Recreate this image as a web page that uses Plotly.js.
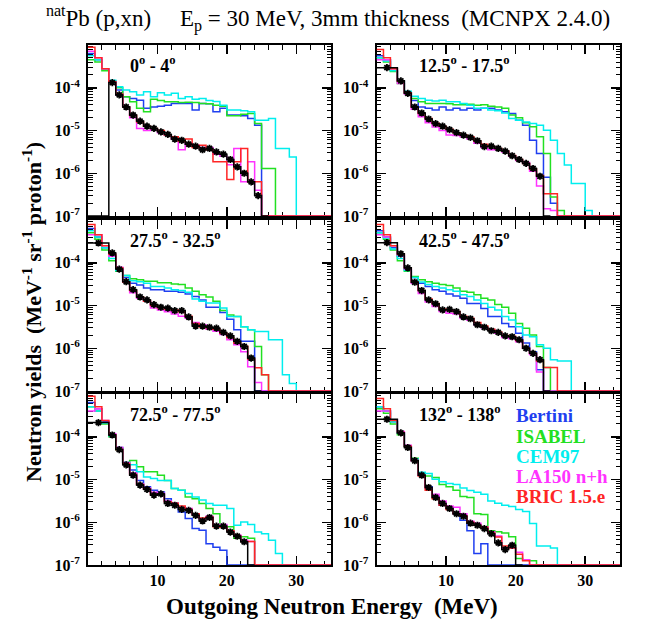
<!DOCTYPE html>
<html><head><meta charset="utf-8">
<script src="https://cdn.plot.ly/plotly-3.0.1.min.js"></script>
<style>html,body{margin:0;padding:0;background:#fff}#chart{width:656px;height:626px}</style>
</head><body><div id="chart"></div>
<script>
// Bin edges (MeV)
const modelEdges = [0,1,2,3,4,5,6,7,8,9,10,11,12,13,14,15,16,17,18,19,20,21,22,23,24,25,26,27,28,29,30,31,32,33,34,35];
const dataEdges = [0,3,4,5,6,7,8,9,10,11,12,13,14,15,16,17,18,19,20,21,22,23,24,25,26,27,28,29,30,31,32,33,34,35];

const panelLabels = ['0<sup>o</sup> - 4<sup>o</sup>','12.5<sup>o</sup> - 17.5<sup>o</sup>','27.5<sup>o</sup> - 32.5<sup>o</sup>','42.5<sup>o</sup> - 47.5<sup>o</sup>','72.5<sup>o</sup> - 77.5<sup>o</sup>','132<sup>o</sup> - 138<sup>o</sup>'];
const modelNames = ['Bertini','ISABEL','CEM97','LA150 n+h','BRIC 1.5.e'];
const modelColors = ['#1f3ff0','#22e022','#00eeee','#ff33ff','#ff2525'];

// ---- 0 - 4 deg ----
const p1_bertini = [6.3e-4,4.5e-4,2.8e-4,1.41e-4,8.9e-5,6.2e-5,5.6e-5,5.1e-5,3.3e-5,3.55e-5,3.7e-5,3.9e-5,4.3e-5,4.3e-5,4.3e-5,3.0e-5,4.3e-5,4.2e-5,2.75e-5,3.3e-5,2.3e-5,2.3e-5,2.2e-5,1.9e-5,1.32e-5,0,0,0,0,0,0,0,0,0,0];
const p1_isabel = [4.5e-4,4.0e-4,2.5e-4,1.41e-4,1.0e-4,6.2e-5,4.7e-5,3.3e-5,2.75e-5,5.4e-5,5.0e-5,4.7e-5,4.7e-5,4.5e-5,4.6e-5,4.5e-5,4.3e-5,4.2e-5,3.9e-5,3.7e-5,2.2e-5,2.2e-5,2.4e-5,2.5e-5,1.45e-5,1.3e-6,1.3e-6,0,0,0,0,0,0,0,0];
const p1_cem = [5.6e-4,4.5e-4,2.8e-4,1.5e-4,1.05e-4,8.9e-5,8.1e-5,6.8e-5,8.1e-5,6.2e-5,7.6e-5,6.8e-5,7.4e-5,5.6e-5,6.2e-5,5.4e-5,5.6e-5,5.0e-5,4.8e-5,3.9e-5,3.0e-5,3.0e-5,2.9e-5,2.75e-5,1.74e-5,1.74e-5,1.9e-5,3.8e-6,3.8e-6,2.4e-6,0,0,0,0,0];
const p1_la150 = [7.1e-4,5.0e-4,2.8e-4,1.38e-4,6.8e-5,3.55e-5,2.0e-5,1.12e-5,1.0e-5,1.05e-5,8.9e-6,7.9e-6,6.3e-6,3.55e-6,5.0e-6,4.5e-6,4.0e-6,4.0e-6,2.8e-6,2.5e-6,1.58e-6,3.8e-6,6.3e-7,1.86e-6,4.0e-7,0,0,0,0,0,0,0,0,0,0];
const p1_bric = [8.9e-4,5.0e-4,2.8e-4,1.38e-4,7.1e-5,3.55e-5,2.24e-5,1.58e-5,1.26e-5,1.12e-5,1.0e-5,7.9e-6,7.1e-6,5.6e-6,6.3e-6,4.0e-6,4.5e-6,3.55e-6,1.86e-6,1.86e-6,7.1e-7,1.86e-6,3.8e-6,6.3e-7,6.3e-7,0,0,0,0,0,0,0,0,0,0];
const p1_exp = [0,1.32e-4,6.8e-5,3.55e-5,2.3e-5,1.66e-5,1.26e-5,1.12e-5,9.3e-6,8.1e-6,6.3e-6,5.9e-6,4.8e-6,4.3e-6,3.55e-6,3.8e-6,3.16e-6,2.8e-6,2.1e-6,1.41e-6,1.0e-6,6.3e-7,3.0e-7,0];

// ---- 12.5 - 17.5 deg ----
const p2_bertini = [5.6e-4,4.5e-4,2.5e-4,1.41e-4,7.9e-5,5.0e-5,3.55e-5,3.3e-5,3.0e-5,3.55e-5,3.0e-5,3.3e-5,3.0e-5,3.3e-5,3.0e-5,3.3e-5,3.3e-5,3.0e-5,2.75e-5,2.5e-5,1.74e-5,1.32e-5,5.9e-6,2.9e-6,8.1e-7,2.0e-7,0,0,0,0,0,0,0,0,0];
const p2_isabel = [5.0e-4,4.0e-4,2.4e-4,1.26e-4,7.6e-5,5.6e-5,4.7e-5,4.3e-5,4.3e-5,4.3e-5,4.2e-5,4.0e-5,4.0e-5,4.1e-5,3.9e-5,4.0e-5,3.7e-5,3.55e-5,3.3e-5,2.3e-5,2.0e-5,1.51e-5,1.23e-5,7.1e-6,2.9e-6,2.8e-7,1.35e-7,0,0,0,0,0,0,0,0];
const p2_cem = [5.0e-4,4.2e-4,2.5e-4,1.41e-4,8.3e-5,6.3e-5,5.6e-5,5.1e-5,4.9e-5,5.1e-5,4.7e-5,4.7e-5,4.3e-5,3.9e-5,3.3e-5,3.3e-5,3.0e-5,2.9e-5,2.57e-5,1.9e-5,1.74e-5,1.58e-5,1.45e-5,1.32e-5,1.02e-5,5.9e-6,2.9e-6,1.55e-6,5.75e-7,5.75e-7,1.35e-7,0,0,0,0];
const p2_la150 = [4.5e-4,4.5e-4,2.8e-4,1.26e-4,7.1e-5,3.16e-5,2.1e-5,1.51e-5,1.2e-5,1.0e-5,7.9e-6,7.6e-6,7.1e-6,6.3e-6,5.0e-6,4.0e-6,3.55e-6,3.55e-6,3.16e-6,2.5e-6,2.0e-6,1.78e-6,1.12e-6,5.0e-7,1.48e-7,1.35e-7,0,0,0,0,0,0,0,0,0];
const p2_bric = [7.9e-4,5.0e-4,2.8e-4,1.41e-4,7.6e-5,3.55e-5,2.5e-5,1.9e-5,1.48e-5,1.26e-5,1.07e-5,8.9e-6,7.9e-6,7.1e-6,5.6e-6,4.8e-6,4.2e-6,3.8e-6,3.3e-6,2.6e-6,2.1e-6,1.7e-6,1.26e-6,8.9e-7,3.3e-7,3.3e-7,0,0,0,0,0,0,0,0,0];
const p2_exp = [2.95e-4,1.45e-4,7.4e-5,3.55e-5,2.57e-5,1.86e-5,1.45e-5,1.26e-5,1.05e-5,8.9e-6,7.8e-6,6.9e-6,5.75e-6,4.2e-6,4.3e-6,3.8e-6,3.3e-6,2.57e-6,2.1e-6,1.7e-6,1.29e-6,8.5e-7,0];

// ---- 27.5 - 32.5 deg ----
const p3_bertini = [6.3e-4,4.0e-4,2.24e-4,1.41e-4,7.6e-5,4.5e-5,3.3e-5,3.0e-5,2.57e-5,2.35e-5,2.35e-5,2.14e-5,2.14e-5,2.04e-5,1.86e-5,1.62e-5,1.35e-5,9.1e-6,9.1e-6,6.9e-6,4.8e-6,2.7e-6,1.45e-6,1.45e-6,0,0,0,0,0,0,0,0,0,0,0];
const p3_isabel = [5.0e-4,3.55e-4,2.0e-4,1.12e-4,6.3e-5,5.0e-5,4.2e-5,4.0e-5,3.7e-5,3.7e-5,3.4e-5,3.4e-5,3.2e-5,3.1e-5,2.57e-5,2.14e-5,1.78e-5,1.58e-5,1.26e-5,7.6e-6,6.0e-6,5.5e-6,3.2e-6,2.7e-6,1.1e-6,2.4e-7,0,0,0,0,0,0,0,0,0];
const p3_cem = [5.6e-4,4.0e-4,2.24e-4,1.26e-4,6.6e-5,5.0e-5,3.8e-5,3.6e-5,3.3e-5,2.8e-5,2.8e-5,2.57e-5,2.35e-5,2.24e-5,2.04e-5,1.41e-5,1.26e-5,1.15e-5,1.15e-5,8.7e-6,5.5e-6,5.5e-6,3.2e-6,2.7e-6,2.45e-6,2.45e-6,1.58e-6,1.58e-6,2.4e-7,1.5e-7,0,0,0,0,0];
const p3_la150 = [4.5e-4,4.5e-4,2.5e-4,1.41e-4,7.9e-5,3.55e-5,2.0e-5,1.48e-5,1.26e-5,8.7e-6,7.9e-6,7.1e-6,6.3e-6,5.6e-6,5.0e-6,4.0e-6,3.55e-6,2.8e-6,2.5e-6,2.1e-6,1.58e-6,1.2e-6,8.3e-7,3.7e-7,1.58e-7,0,0,0,0,0,0,0,0,0,0];
const p3_bric = [7.9e-4,4.5e-4,2.5e-4,1.58e-4,7.6e-5,3.55e-5,2.24e-5,1.58e-5,1.26e-5,1.0e-5,8.9e-6,8.3e-6,7.9e-6,7.1e-6,5.6e-6,3.8e-6,3.16e-6,3.0e-6,2.8e-6,2.24e-6,1.78e-6,1.32e-6,1.12e-6,5.6e-7,3.5e-7,2.4e-7,0,0,0,0,0,0,0,0,0];
const p3_exp = [2.9e-4,1.7e-4,7.1e-5,3.6e-5,2.35e-5,1.58e-5,1.35e-5,1.05e-5,9.1e-6,8.7e-6,7.6e-6,7.6e-6,5.4e-6,3.3e-6,3.3e-6,3.1e-6,2.95e-6,2.35e-6,1.95e-6,1.45e-6,1.1e-6,5.9e-7,0];

// ---- 42.5 - 47.5 deg ----
const p4_bertini = [5.6e-4,4.0e-4,2.24e-4,1.41e-4,7.1e-5,4.5e-5,3.3e-5,2.8e-5,2.35e-5,2.14e-5,1.86e-5,1.66e-5,1.48e-5,1.12e-5,1.12e-5,8.5e-6,5.5e-6,5.5e-6,3.8e-6,3.2e-6,2.24e-6,1.32e-6,8.3e-7,3.16e-7,0,0,0,0,0,0,0,0,0,0,0];
const p4_isabel = [5.0e-4,3.55e-4,2.0e-4,1.12e-4,6.3e-5,4.8e-5,4.0e-5,3.6e-5,3.3e-5,3.1e-5,2.95e-5,2.57e-5,2.14e-5,2.04e-5,1.78e-5,1.48e-5,1.35e-5,1.05e-5,9.1e-6,6.6e-6,3.8e-6,2.95e-6,2.04e-6,1.1e-6,3.55e-7,0,0,0,0,0,0,0,0,0,0];
const p4_cem = [5.0e-4,3.8e-4,2.1e-4,1.26e-4,6.6e-5,4.5e-5,3.55e-5,3.1e-5,2.8e-5,2.57e-5,2.35e-5,2.14e-5,1.78e-5,1.62e-5,1.35e-5,1.12e-5,9.1e-6,7.9e-6,5.5e-6,4.6e-6,3.2e-6,2.04e-6,1.86e-6,1.2e-6,1.0e-6,5.4e-7,5.0e-7,5.0e-7,0,0,0,0,0,0,0];
const p4_la150 = [4.5e-4,4.0e-4,2.5e-4,1.51e-4,7.1e-5,3.3e-5,1.9e-5,1.2e-5,9.5e-6,7.2e-6,6.6e-6,6.3e-6,5.0e-6,4.5e-6,3.55e-6,3.0e-6,2.7e-6,2.24e-6,1.78e-6,1.66e-6,1.41e-6,1.0e-6,7.1e-7,2.8e-7,0,0,0,0,0,0,0,0,0,0,0];
const p4_bric = [7.9e-4,4.5e-4,2.5e-4,1.58e-4,7.6e-5,3.55e-5,2.24e-5,1.41e-5,1.12e-5,8.3e-6,7.9e-6,7.2e-6,5.6e-6,5.0e-6,4.0e-6,3.3e-6,2.8e-6,2.4e-6,2.0e-6,1.9e-6,1.51e-6,1.0e-6,7.6e-7,5.0e-7,3.55e-7,3.55e-7,0,0,0,0,0,0,0,0,0];
const p4_exp = [2.95e-4,1.62e-4,7.6e-5,3.5e-5,2.24e-5,1.35e-5,1.1e-5,7.9e-6,8.1e-6,7.2e-6,5.4e-6,4.9e-6,3.55e-6,3.1e-6,2.57e-6,2.35e-6,1.95e-6,1.86e-6,1.58e-6,1.0e-6,7.6e-7,5.4e-7,0];

// ---- 72.5 - 77.5 deg ----
const p5_bertini = [6.3e-4,4.5e-4,2.24e-4,1.12e-4,5.6e-5,2.5e-5,1.66e-5,9.5e-6,6.8e-6,5.6e-6,5.1e-6,3.55e-6,2.75e-6,1.74e-6,1.23e-6,7.1e-7,6.5e-7,3.16e-7,2.6e-7,2.2e-7,0,0,0,0,0,0,0,0,0,0,0,0,0,0,0];
const p5_isabel = [5.0e-4,4.0e-4,2.0e-4,1.0e-4,5.0e-5,2.5e-5,2.8e-5,2.0e-5,1.51e-5,1.51e-5,1.26e-5,9.5e-6,6.2e-6,5.6e-6,3.9e-6,3.55e-6,2.75e-6,2.1e-6,1.58e-6,8.5e-7,7.8e-7,4.2e-7,4.6e-7,4.2e-7,0,0,0,0,0,0,0,0,0,0,0];
const p5_cem = [5.0e-4,4.0e-4,2.1e-4,1.05e-4,5.2e-5,2.5e-5,2.2e-5,1.51e-5,1.15e-5,1.05e-5,9.5e-6,9.5e-6,6.2e-6,5.6e-6,4.7e-6,3.9e-6,3.3e-6,2.75e-6,2.5e-6,2.5e-6,2.1e-6,8.5e-7,1.02e-6,8.9e-7,5.9e-7,5.4e-7,3.8e-7,1.86e-7,0,0,0,0,0,0,0];
const p5_la150 = [4.0e-4,4.5e-4,2.4e-4,1.17e-4,5.6e-5,2.5e-5,1.41e-5,7.9e-6,6.3e-6,5.0e-6,4.8e-6,3.16e-6,2.8e-6,2.24e-6,2.1e-6,1.51e-6,1.2e-6,1.38e-6,8.9e-7,8.9e-7,6.3e-7,5.0e-7,3.8e-7,3.55e-7,0,0,0,0,0,0,0,0,0,0,0];
const p5_bric = [8.9e-4,5.0e-4,2.4e-4,1.12e-4,5.0e-5,2.35e-5,1.32e-5,7.6e-6,6.0e-6,4.5e-6,4.5e-6,3.0e-6,2.8e-6,2.4e-6,2.0e-6,1.58e-6,1.26e-6,1.32e-6,7.9e-7,7.6e-7,6.3e-7,4.8e-7,3.55e-7,3.55e-7,0,0,0,0,0,0,0,0,0,0,0];
const p5_exp = [2.14e-4,1.1e-4,5.0e-5,2.2e-5,1.26e-5,7.4e-6,5.9e-6,4.3e-6,4.6e-6,2.75e-6,2.5e-6,2.0e-6,1.9e-6,1.45e-6,1.07e-6,1.29e-6,8.1e-7,8.1e-7,5.9e-7,4.7e-7,3.5e-7,0];

// ---- 132 - 138 deg ----
const p6_bertini = [5.0e-4,4.0e-4,2.24e-4,1.26e-4,6.0e-5,2.8e-5,1.26e-5,6.8e-6,3.9e-6,2.5e-6,2.1e-6,1.58e-6,1.12e-6,6.3e-7,1.86e-7,3.16e-7,0,0,0,0,0,0,0,0,0,0,0,0,0,0,0,0,0,0,0];
const p6_isabel = [4.5e-4,3.55e-4,2.0e-4,1.12e-4,6.0e-5,3.16e-5,1.41e-5,1.2e-5,1.12e-5,7.6e-6,6.8e-6,5.6e-6,4.0e-6,3.8e-6,1.58e-6,1.51e-6,6.3e-7,6.0e-7,5.6e-7,4.6e-7,1.41e-7,1.32e-7,1.26e-7,0,0,0,0,0,0,0,0,0,0,0,0];
const p6_cem = [5.0e-4,4.0e-4,2.24e-4,1.2e-4,6.0e-5,3.0e-5,1.48e-5,1.38e-5,1.02e-5,8.9e-6,8.1e-6,7.6e-6,6.3e-6,5.5e-6,5.0e-6,4.5e-6,3.16e-6,2.8e-6,2.5e-6,2.35e-6,2.0e-6,1.78e-6,9.3e-7,2.8e-7,2.8e-7,2.5e-7,0,0,0,0,0,0,0,0,0];
const p6_la150 = [4.0e-4,4.0e-4,2.5e-4,1.32e-4,6.3e-5,2.8e-5,1.26e-5,6.3e-6,4.5e-6,3.16e-6,2.4e-6,2.24e-6,1.58e-6,1.05e-6,9.5e-7,7.9e-7,6.0e-7,4.8e-7,2.5e-7,2.5e-7,2.0e-7,1.32e-7,0,0,0,0,0,0,0,0,0,0,0,0,0];
const p6_bric = [7.9e-4,4.5e-4,2.4e-4,1.26e-4,6.0e-5,2.8e-5,1.2e-5,5.6e-6,3.55e-6,2.5e-6,2.0e-6,1.58e-6,1.41e-6,1.0e-6,8.5e-7,7.6e-7,5.6e-7,4.5e-7,2.8e-7,2.5e-7,1.78e-7,1.26e-7,0,0,0,0,0,0,0,0,0,0,0,0,0];
const p6_exp = [2.57e-4,1.23e-4,5.6e-5,2.75e-5,1.26e-5,6.5e-6,3.8e-6,2.75e-6,2.1e-6,1.58e-6,1.38e-6,9.5e-7,8.5e-7,7.1e-7,5.4e-7,3.3e-7,2.3e-7,2.9e-7,0];

const yTickVals = [1e-7,1e-6,1e-5,1e-4];
const yTickText = ['10<sup>-7</sup>','10<sup>-6</sup>','10<sup>-5</sup>','10<sup>-4</sup>'];
const xTickVals = [10,20,30];
const xTickText = ['10','20','30'];

const panels = [
  {models:[p1_bertini,p1_isabel,p1_cem,p1_la150,p1_bric], exp:p1_exp},
  {models:[p2_bertini,p2_isabel,p2_cem,p2_la150,p2_bric], exp:p2_exp},
  {models:[p3_bertini,p3_isabel,p3_cem,p3_la150,p3_bric], exp:p3_exp},
  {models:[p4_bertini,p4_isabel,p4_cem,p4_la150,p4_bric], exp:p4_exp},
  {models:[p5_bertini,p5_isabel,p5_cem,p5_la150,p5_bric], exp:p5_exp},
  {models:[p6_bertini,p6_isabel,p6_cem,p6_la150,p6_bric], exp:p6_exp}
];

const YMIN = 1e-7; // empty bins are drawn on the frame minimum, as ROOT does
function stepLine(edges, vals){
  const x=[], y=[];
  for(let i=0;i<vals.length;i++){ x.push(edges[i]); y.push(vals[i]>0?vals[i]:YMIN); }
  x.push(edges[vals.length]); y.push(vals[vals.length-1]>0?vals[vals.length-1]:YMIN);
  return {x,y};
}

const W=656, H=626;
const colX = [[88/W,331/W],[376.5/W,620/W]];
const rowY = [[1-216/H,1-45/H],[1-391/H,1-220/H],[1-565/H,1-394/H]];
const minorY=[]; for(let e=-7;e<=-4;e++){ for(let d=2;d<=9;d++) minorY.push(d*Math.pow(10,e)); }
const minorX=[2,4,6,8,12,14,16,18,22,24,26,28,32,34];
const tickFont = {family:'Liberation Serif', size:16, color:'black', weight:'bold'};

const traces=[]; const layout={
  width:W, height:H, margin:{l:0,r:0,t:0,b:0}, paper_bgcolor:'white', plot_bgcolor:'white',
  showlegend:false, annotations:[],
  title:{text:'<sup>nat</sup>Pb (p,xn)&nbsp;&nbsp;&nbsp;&nbsp;&nbsp;E<sub>p</sub> = 30 MeV, 3mm thickness&nbsp;&nbsp;(MCNPX 2.4.0)',
    font:{family:'Liberation Serif', size:23, color:'black'}, x:0.5, xref:'paper', y:1-18/H, yref:'container', xanchor:'center', yanchor:'middle'}
};

panels.forEach((p,i)=>{
  const row=Math.floor(i/2), col=i%2;
  const s = i===0?'':String(i+1);
  p.models.forEach((vals,m)=>{
    const st=stepLine(modelEdges, vals);
    traces.push({type:'scatter', mode:'lines', x:st.x, y:st.y, xaxis:'x'+s, yaxis:'y'+s,
      line:{color:modelColors[m], width:1.5, shape:'hv'}, name:modelNames[m], hoverinfo:'skip'});
  });
  const sd=stepLine(dataEdges, p.exp);
  traces.push({type:'scatter', mode:'lines', x:sd.x, y:sd.y, xaxis:'x'+s, yaxis:'y'+s,
    line:{color:'black', width:1.5, shape:'hv'}, hoverinfo:'skip'});
  const mx=[], my=[];
  p.exp.forEach((v,k)=>{ if(v>0){ mx.push((dataEdges[k]+dataEdges[k+1])/2); my.push(v);} });
  traces.push({type:'scatter', mode:'markers', x:mx, y:my, xaxis:'x'+s, yaxis:'y'+s,
    marker:{symbol:'asterisk-open', size:6, color:'black', line:{color:'black', width:1.8}}, hoverinfo:'skip'});

  layout['xaxis'+s] = {domain:colX[col], anchor:'y'+s, range:[0,35], tickmode:'array', tickvals:xTickVals, ticktext:xTickText,
    showticklabels: row===2, ticks:'inside', ticklen:9, tickwidth:1.5, tickcolor:'black',
    minor:{tickmode:'array', tickvals:minorX, ticks:'inside', ticklen:4.5, tickwidth:1, tickcolor:'black', showgrid:false},
    showline:true, linewidth:2, linecolor:'black', mirror:'allticks', showgrid:false, zeroline:false,
    tickfont:tickFont, layer:'below traces', fixedrange:true};
  layout['yaxis'+s] = {domain:rowY[row], anchor:'x'+s, type:'log', range:[-7,-3], tickmode:'array', tickvals:yTickVals, ticktext:yTickText,
    ticks:'inside', ticklen:9, tickwidth:1.5, tickcolor:'black',
    minor:{tickmode:'array', tickvals:minorY, ticks:'inside', ticklen:4.5, tickwidth:1, tickcolor:'black', showgrid:false},
    showline:true, linewidth:2, linecolor:'black', mirror:'allticks', showgrid:false, zeroline:false,
    tickfont:tickFont, ticklabelstandoff:3, layer:'below traces', fixedrange:true};

  layout.annotations.push({text:panelLabels[i], xref:'x'+s+' domain', yref:'y'+s+' domain', x:0.165, y:0.885,
    xanchor:'left', yanchor:'middle', showarrow:false, font:{family:'Liberation Serif', size:18, color:'black', weight:'bold'}});
});

// legend text in the last panel
const legY = [415,436,456,476,496];
modelNames.forEach((n,m)=>{
  layout.annotations.push({text:n, xref:'paper', yref:'paper', x:514/W, y:1-legY[m]/H, xanchor:'left', yanchor:'middle',
    showarrow:false, font:{family:'Liberation Serif', size:19, color:modelColors[m], weight:'bold'}});
});
// axis titles
layout.annotations.push({text:'Outgoing Neutron Energy&nbsp;&nbsp;(MeV)', xref:'paper', yref:'paper', x:332/W, y:1-606/H,
  xanchor:'center', yanchor:'middle', showarrow:false, font:{family:'Liberation Serif', size:23, color:'black', weight:'bold'}});
layout.annotations.push({text:'Neutron yields&nbsp;&nbsp;(MeV<sup>-1</sup> sr<sup>-1</sup> proton<sup>-1</sup>)', xref:'paper', yref:'paper',
  x:32/W, y:1-312/H, xanchor:'center', yanchor:'middle', textangle:-90, showarrow:false,
  font:{family:'Liberation Serif', size:22, color:'black', weight:'bold'}});

Plotly.newPlot('chart', traces, layout, {staticPlot:true, displayModeBar:false});
</script></body></html>
